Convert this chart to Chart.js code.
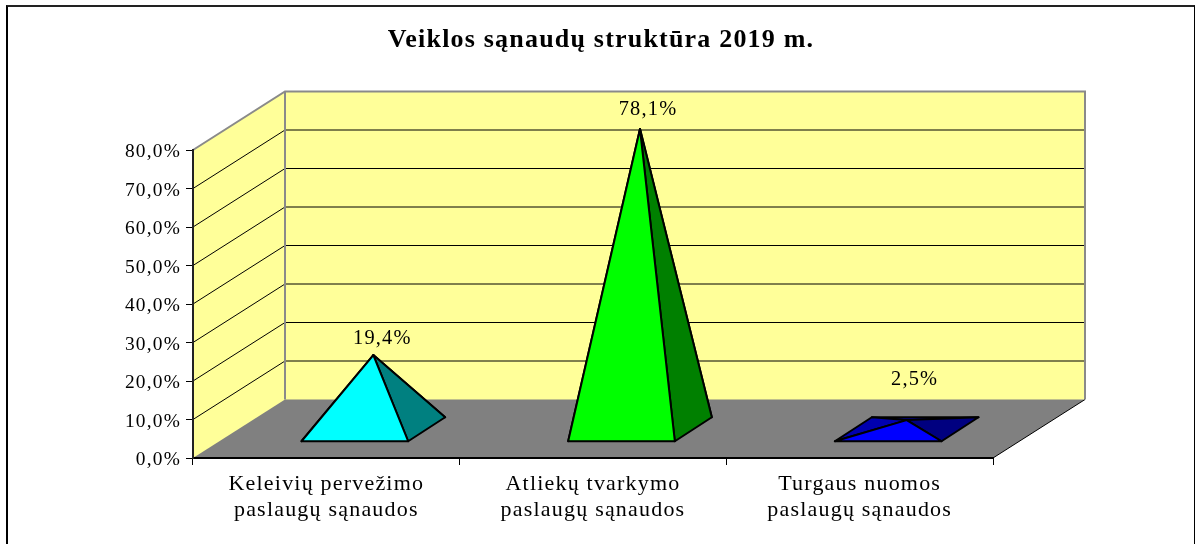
<!DOCTYPE html>
<html lang="lt">
<head>
<meta charset="utf-8">
<title>Veiklos sąnaudų struktūra 2019 m.</title>
<script src="https://cdn.jsdelivr.net/npm/chart.js@4"></script>
<style>
    html, body { margin: 0; padding: 0; background: #fff; overflow: hidden; }
    #frame {
        position: absolute; left: 6px; top: 5px; width: 1186px; height: 560px;
        border-left: 2px solid #000; border-top: 2px solid #222; border-right: 1px solid #000;
    }
    canvas { display: block; }
</style>
</head>
<body>
<div id="frame"><canvas id="chart" width="1186" height="537"></canvas></div>
<script>
// Data
const categories = [
    ['Keleivių pervežimo', 'paslaugų sąnaudos'],
    ['Atliekų tvarkymo', 'paslaugų sąnaudos'],
    ['Turgaus nuomos', 'paslaugų sąnaudos']
];
const values = [19.4, 78.1, 2.5];
const yTicksMax = 80;
const yTicksStep = 10;

// Face colours of each pyramid
const frontColors = ['#00FFFF', '#00FF00', '#0000FF'];
const sideColors = ['#008080', '#008000', '#000080'];
const leftColors = ['#00B0B0', '#00B000', '#0000B0'];

// 3D look
const DEPTH_X = 92;
const DEPTH_Y = 58.5;
const BASE_DX = 18.5;
const BASE_DY = 12;
const LABEL_SHIFT = [[9, -16], [8, -19], [8, -40]];
const LETTER_SPACING = '1.2px';
const FONT = '"Liberation Serif", "Times New Roman", serif';

const formatPercent = (v) => v.toFixed(1).replace('.', ',') + '%';

function polygon(ctx, points, fill) {
    ctx.beginPath();
    points.forEach((p, i) => (i ? ctx.lineTo(p[0], p[1]) : ctx.moveTo(p[0], p[1])));
    ctx.closePath();
    ctx.fillStyle = fill;
    ctx.fill();
    ctx.stroke();
}

const wallsPlugin = {
    id: 'walls',
    beforeLayout(chart) { chart.ctx.letterSpacing = LETTER_SPACING; },
    beforeDraw(chart) {
        const { ctx, chartArea: a, scales } = chart;
        ctx.letterSpacing = LETTER_SPACING;
        ctx.save();

        // side wall, back wall, floor
        ctx.fillStyle = '#FFFF99';
        ctx.beginPath();
        ctx.moveTo(a.left, a.top);
        ctx.lineTo(a.left + DEPTH_X, a.top - DEPTH_Y);
        ctx.lineTo(a.right + DEPTH_X, a.top - DEPTH_Y);
        ctx.lineTo(a.right + DEPTH_X, a.bottom - DEPTH_Y);
        ctx.lineTo(a.left, a.bottom);
        ctx.closePath();
        ctx.fill();

        // gridlines
        ctx.strokeStyle = '#000';
        ctx.lineWidth = 1;
        scales.y.ticks.forEach((t) => {
            const y = scales.y.getPixelForValue(t.value);
            if (t.value === 0 || t.value === yTicksMax) return;
            ctx.beginPath();
            ctx.moveTo(a.left, y);
            ctx.lineTo(a.left + DEPTH_X, y - DEPTH_Y);
            ctx.lineTo(a.right + DEPTH_X, y - DEPTH_Y);
            ctx.stroke();
        });

        // floor
        ctx.fillStyle = '#808080';
        ctx.beginPath();
        ctx.moveTo(a.left, a.bottom);
        ctx.lineTo(a.right, a.bottom);
        ctx.lineTo(a.right + DEPTH_X, a.bottom - DEPTH_Y);
        ctx.lineTo(a.left + DEPTH_X, a.bottom - DEPTH_Y);
        ctx.closePath();
        ctx.fill();

        // floor right edge
        ctx.beginPath();
        ctx.moveTo(a.right, a.bottom);
        ctx.lineTo(a.right + DEPTH_X, a.bottom - DEPTH_Y);
        ctx.stroke();

        // wall outline
        ctx.strokeStyle = '#8a8a8a';
        ctx.lineWidth = 2;
        ctx.beginPath();
        ctx.moveTo(a.left, a.top);
        ctx.lineTo(a.left + DEPTH_X, a.top - DEPTH_Y);
        ctx.lineTo(a.right + DEPTH_X, a.top - DEPTH_Y);
        ctx.lineTo(a.right + DEPTH_X, a.bottom - DEPTH_Y);
        ctx.moveTo(a.left + DEPTH_X, a.top - DEPTH_Y);
        ctx.lineTo(a.left + DEPTH_X, a.bottom - DEPTH_Y);
        ctx.stroke();
        ctx.restore();
    }
};

const pyramidPlugin = {
    id: 'pyramids',
    afterDatasetsDraw(chart) {
        const { ctx } = chart;
        const bars = chart.getDatasetMeta(0).data;
        ctx.save();
        ctx.strokeStyle = '#000';
        ctx.lineWidth = 2;
        ctx.lineJoin = 'round';

        bars.forEach((bar, i) => {
            const half = bar.width / 2;
            const cx = bar.x + DEPTH_X / 2 + 1;
            const shift = DEPTH_Y / 2 - 1;
            const cy = bar.base - shift;
            const apex = [cx, bar.y - shift];
            const fl = [cx - half - BASE_DX, cy + BASE_DY];
            const fr = [cx + half - BASE_DX, cy + BASE_DY];
            const br = [cx + half + BASE_DX, cy - BASE_DY];
            const bl = [cx - half + BASE_DX, cy - BASE_DY];

            polygon(ctx, [bl, br, apex], sideColors[i]);
            polygon(ctx, [fl, bl, apex], leftColors[i]);
            polygon(ctx, [fr, br, apex], sideColors[i]);
            polygon(ctx, [fl, fr, apex], frontColors[i]);

            ctx.fillStyle = '#000';
            ctx.font = '20.4px ' + FONT;
            ctx.textAlign = 'center';
            ctx.textBaseline = 'middle';
            ctx.fillText(formatPercent(values[i]), apex[0] + LABEL_SHIFT[i][0], apex[1] + LABEL_SHIFT[i][1]);
        });
        ctx.restore();
    }
};

new Chart(document.getElementById('chart'), {
    type: 'bar',
    data: {
        labels: categories,
        datasets: [{
            data: values,
            backgroundColor: 'rgba(0,0,0,0)',
            barPercentage: 0.4,
            categoryPercentage: 1
        }]
    },
    options: {
        responsive: false,
        animation: false,
        layout: { padding: 0 },
        plugins: {
            legend: { display: false },
            tooltip: { enabled: false },
            title: {
                display: true,
                text: 'Veiklos sąnaudų struktūra 2019 m.',
                color: '#000',
                font: { family: FONT, size: 26, weight: 'bold', lineHeight: 1.2 },
                padding: { top: 18, bottom: 93.8 }
            }
        },
        scales: {
            x: {
                grid: { drawOnChartArea: false, tickLength: 7, tickColor: '#000', tickWidth: 1 },
                border: { color: '#000', width: 2 },
                ticks: {
                    color: '#000',
                    padding: 6,
                    maxRotation: 0,
                    autoSkip: false,
                    font: { family: FONT, size: 22, lineHeight: 1.18 }
                },
                afterFit(scale) { scale.height = 86; }
            },
            y: {
                min: 0,
                max: yTicksMax,
                grid: { drawOnChartArea: false, tickLength: 7, tickColor: '#000', tickWidth: 1 },
                border: { color: '#222', width: 2 },
                ticks: {
                    stepSize: yTicksStep,
                    color: '#000',
                    padding: 5,
                    labelOffset: 2,
                    font: { family: FONT, size: 19.4 },
                    callback: (v) => formatPercent(v)
                },
                afterFit(scale) { scale.width = 185; }
            },
            // empty right-hand margin, keeps the plot off the right edge while the title stays centred
            margin: {
                position: 'right',
                grid: { display: false },
                border: { display: false },
                ticks: { display: false },
                afterFit(scale) { scale.width = 201; }
            }
        }
    },
    plugins: [wallsPlugin, pyramidPlugin]
});
</script>
</body>
</html>
